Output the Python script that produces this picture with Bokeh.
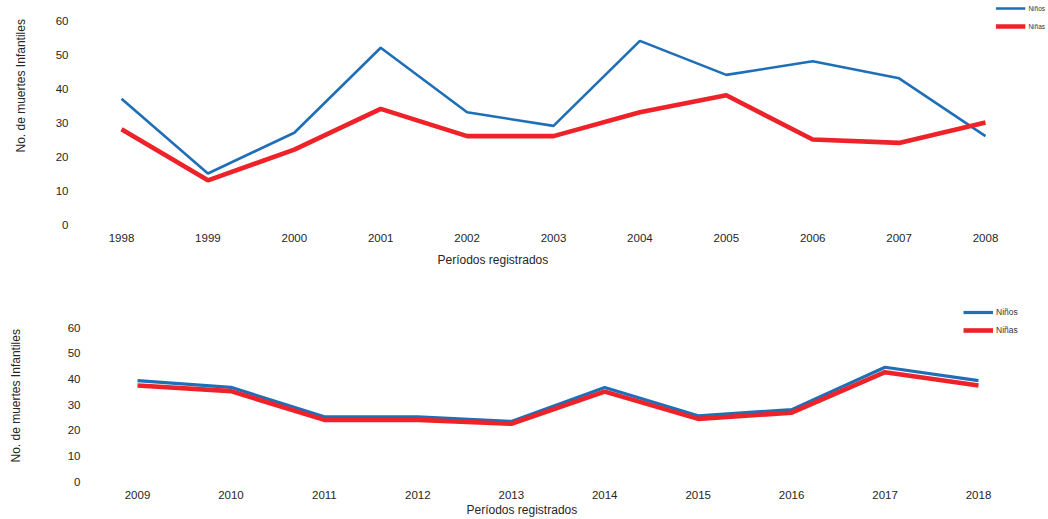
from bokeh.plotting import figure
from bokeh.models import FixedTicker, Legend, LegendItem, Range1d, Title
from bokeh.layouts import column
from bokeh.embed import file_html
from bokeh.resources import INLINE

# ---------------- data ----------------
years_a = [1998, 1999, 2000, 2001, 2002, 2003, 2004, 2005, 2006, 2007, 2008]
ninos_a = [37, 15, 27, 52, 33, 29, 54, 44, 48, 43, 26]
ninas_a = [28, 13, 22, 34, 26, 26, 33, 38, 25, 24, 30]

years_b = [2009, 2010, 2011, 2012, 2013, 2014, 2015, 2016, 2017, 2018]
ninos_b = [39.3, 36.7, 25.2, 25.2, 23.4, 36.6, 25.6, 28.0, 44.5, 39.3]
ninas_b = [37.4, 35.2, 24.0, 24.0, 22.5, 35.0, 24.4, 26.8, 42.6, 37.4]

y_ticks = [0, 10, 20, 30, 40, 50, 60]
series_names = ["Niños", "Niñas"]
x_title = "Períodos registrados"
y_title = "No. de muertes Infantiles"

BLUE = "#1f6fb8"
RED = "#ee2229"
FONT = "Liberation Sans"
TXT = "#262626"

W = 1048
FRAME_LEFT = 82


def make_panel(years, ninos, ninas, *, fig_top, height, frame_top, frame_bottom,
               first_px, last_px, zero_py, sixty_py, w_ninos, w_ninas,
               legend_fs, legend_gx, legend_top_row, ytick_standoff,
               xt_left, xt_standoff, yt_bottom, yt_spacer, legend_corner=None):
    px_per_year = (last_px - first_px) / (years[-1] - years[0])
    px_per_unit = (zero_py - sixty_py) / 60.0
    x0 = years[0] - (first_px - FRAME_LEFT) / px_per_year
    x1 = x0 + (W - FRAME_LEFT) / px_per_year
    y1 = (zero_py - frame_top) / px_per_unit
    y0 = (zero_py - frame_bottom) / px_per_unit

    p = figure(width=W, height=height, output_backend="svg", toolbar_location=None,
               x_range=Range1d(x0, x1), y_range=Range1d(y0, y1))
    p.min_border_left = FRAME_LEFT
    p.min_border_right = 0
    p.min_border_top = frame_top - fig_top
    p.min_border_bottom = fig_top + height - frame_bottom
    p.outline_line_color = None
    p.background_fill_color = "white"
    p.border_fill_color = "white"
    p.xgrid.visible = False
    p.ygrid.visible = False

    p.xaxis.ticker = FixedTicker(ticks=years)
    p.yaxis.ticker = FixedTicker(ticks=y_ticks)
    for ax in (p.xaxis, p.yaxis):
        ax.axis_line_color = None
        ax.major_tick_line_color = None
        ax.minor_tick_line_color = None
        ax.major_tick_out = 0
        ax.major_tick_in = 0
        ax.major_label_text_font = FONT
        ax.major_label_text_font_size = "11.5px"
        ax.major_label_text_color = TXT
    p.yaxis.major_label_standoff = ytick_standoff
    p.xaxis.major_label_standoff = 5

    r1 = p.line(years, ninos, line_color=BLUE, line_width=w_ninos)
    r2 = p.line(years, ninas, line_color=RED, line_width=w_ninas)

    legend = Legend(items=[LegendItem(label=series_names[0], renderers=[r1]),
                           LegendItem(label=series_names[1], renderers=[r2])])
    legend.padding = 0
    legend.margin = 0
    legend.spacing = 8
    legend.glyph_width = 30
    legend.glyph_height = 10
    legend.label_height = 10
    legend.label_width = 10
    legend.label_standoff = 3
    legend.label_text_font = FONT
    legend.label_text_font_size = legend_fs
    legend.label_text_color = "#333333"
    legend.background_fill_alpha = 0
    legend.border_line_alpha = 0
    if legend_corner is not None:
        legend.location = legend_corner
        legend.margin = 3
    else:
        leg_h = 10 + 8 + 10
        leg_top = legend_top_row - 5
        legend.location = (legend_gx - FRAME_LEFT, frame_bottom - (leg_top + leg_h))
    p.add_layout(legend, "center")

    p.add_layout(Title(text=x_title, align="left", offset=xt_left - FRAME_LEFT,
                       vertical_align="top", standoff=xt_standoff,
                       text_font=FONT, text_font_size="12px", text_color=TXT,
                       text_font_style="normal"), "below")
    # empty spacer between the tick labels and the vertical axis title
    p.add_layout(Title(text=" ", standoff=yt_spacer, text_font_size="1px"), "left")
    p.add_layout(Title(text=y_title, align="left", offset=frame_bottom - yt_bottom,
                       vertical_align="middle", standoff=0,
                       text_font=FONT, text_font_size="12px", text_color=TXT,
                       text_font_style="normal"), "left")
    return p


# top chart: y 0..280
top = make_panel(years_a, ninos_a, ninas_a, fig_top=0, height=280,
                 frame_top=0, frame_bottom=228,
                 first_px=121, last_px=985, zero_py=224, sixty_py=20,
                 w_ninos=2.6, w_ninas=4.6, legend_fs="6.5px", legend_gx=995,
                 legend_top_row=10, ytick_standoff=14,
                 xt_left=437, xt_standoff=16, yt_bottom=152, yt_spacer=21,
                 legend_corner="top_right")

# bottom chart: y 280..519
bot = make_panel(years_b, ninos_b, ninas_b, fig_top=280, height=239,
                 frame_top=300, frame_bottom=485,
                 first_px=137, last_px=978, zero_py=481, sixty_py=327,
                 w_ninos=3.2, w_ninas=4.6, legend_fs="8.5px", legend_gx=963,
                 legend_top_row=311.5, ytick_standoff=2,
                 xt_left=466, xt_standoff=2, yt_bottom=462, yt_spacer=38)

layout = column(top, bot, spacing=0)
open("out.html", "w").write(file_html(layout, INLINE))
